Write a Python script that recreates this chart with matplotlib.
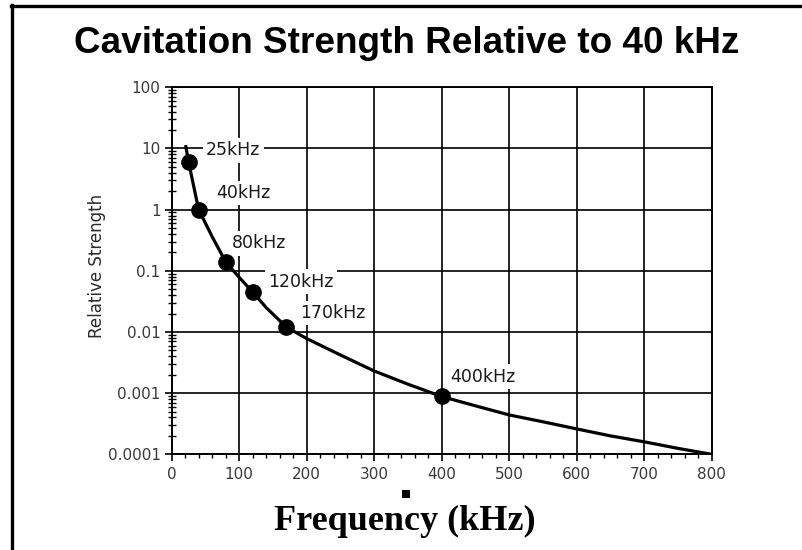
import numpy as np
import matplotlib
matplotlib.use("Agg")
import matplotlib.pyplot as plt
from matplotlib.lines import Line2D
from matplotlib.patches import Rectangle
from matplotlib.ticker import FixedLocator, LogLocator, NullFormatter, MultipleLocator

# ---- data ----
curve_freq = [21, 25, 30, 35, 40, 50, 60, 80, 100, 120, 140, 170, 200, 250, 300,
              350, 400, 450, 500, 550, 600, 650, 700, 750, 800]
curve_strength = [10.7, 6.0, 3.3, 1.8, 1.0, 0.6, 0.36, 0.14, 0.078, 0.045, 0.025,
                  0.012, 0.0078, 0.0042, 0.0023, 0.0014, 0.00088, 0.00062, 0.00044,
                  0.00034, 0.00026, 0.0002, 0.00016, 0.000125, 0.0001]
point_freq = [25, 40, 80, 120, 170, 400]
point_strength = [6.0, 1.0, 0.14, 0.045, 0.012, 0.0009]
point_labels = ["25kHz", "40kHz", "80kHz", "120kHz", "170kHz", "400kHz"]
x_ticks = [0, 100, 200, 300, 400, 500, 600, 700, 800]
y_ticks = [0.0001, 0.001, 0.01, 0.1, 1, 10, 100]
y_tick_labels = ["0.0001", "0.001", "0.01", "0.1", "1", "10", "100"]
title = "Cavitation Strength Relative to 40 kHz"
xlabel = "Frequency (kHz)"
ylabel = "Relative Strength"

# label anchor positions (left edge, vertical centre) in data coordinates
label_pos = [(51, 9.4), (66, 1.87), (89, 0.284), (143, 0.066), (190, 0.0204), (412, 0.00186)]

W, H = 802, 550
fig = plt.figure(figsize=(W / 100, H / 100), dpi=100)
fig.patch.set_facecolor("white")

ax = fig.add_axes([171.7 / W, 1 - 454.3 / H, 540 / W, 367 / H])
ax.set_yscale("log")
ax.set_xlim(0, 800)
ax.set_ylim(1e-4, 100)

ax.grid(True, which="major", color="black", linewidth=1.2)
ax.set_axisbelow(True)
for s in ax.spines.values():
    s.set_linewidth(1.4)
    s.set_color("black")

ax.xaxis.set_major_locator(FixedLocator(x_ticks))
ax.xaxis.set_minor_locator(MultipleLocator(20))
ax.set_xticklabels([str(v) for v in x_ticks])
ax.yaxis.set_major_locator(FixedLocator(y_ticks))
ax.set_yticklabels(y_tick_labels)
ax.yaxis.set_minor_locator(LogLocator(base=10, subs=np.arange(2, 10)))
ax.yaxis.set_minor_formatter(NullFormatter())

ax.tick_params(axis="both", which="major", direction="out", length=5, width=1.2,
               colors="black", labelcolor="#3a3a3a", labelsize=11, pad=3)
ax.tick_params(axis="x", which="minor", direction="out", length=3, width=1.0)
ax.tick_params(axis="y", which="minor", direction="inout", length=6, width=1.0)
for lab in ax.get_xticklabels() + ax.get_yticklabels():
    lab.set_fontfamily("DejaVu Sans")
ax.tick_params(axis="x", which="major", pad=4)

ax.plot(curve_freq, curve_strength, color="black", linewidth=2.3, zorder=3)
ax.plot(point_freq, point_strength, "o", color="black", markersize=11, zorder=4)

for lab, (lx, ly) in zip(point_labels, label_pos):
    ax.text(lx, ly, lab, ha="left", va="center", fontsize=12.5, family="DejaVu Sans",
            color="#1a1a1a", zorder=2,
            bbox=dict(facecolor="white", edgecolor="none", pad=2.5))

# texts
fig.text(406.5 / W, 1 - 43.5 / H, title, ha="center", va="center",
         fontsize=26.6, fontweight="bold", family="Liberation Sans", color="black")
fig.text(404.5 / W, 1 - 521 / H, xlabel, ha="center", va="center",
         fontsize=26, fontweight="bold", family="Liberation Serif", color="black")
fig.text(97 / W, 1 - 266 / H, ylabel, ha="center", va="center", rotation=90,
         fontsize=12, family="DejaVu Sans", color="#2a2a2a")

# frame lines and small square artifact
fig.add_artist(Line2D([12 / W, 12 / W], [0, 1 - 5 / H], transform=fig.transFigure,
                      color="black", linewidth=2.4))
fig.add_artist(Line2D([11 / W, 1], [1 - 6 / H, 1 - 6 / H], transform=fig.transFigure,
                      color="black", linewidth=2.4))
fig.add_artist(Rectangle((402 / W, 1 - 498 / H), 8 / W, 8 / H, transform=fig.transFigure,
                         facecolor="black", edgecolor="none"))

fig.savefig("out.png", dpi=100, facecolor="white")
